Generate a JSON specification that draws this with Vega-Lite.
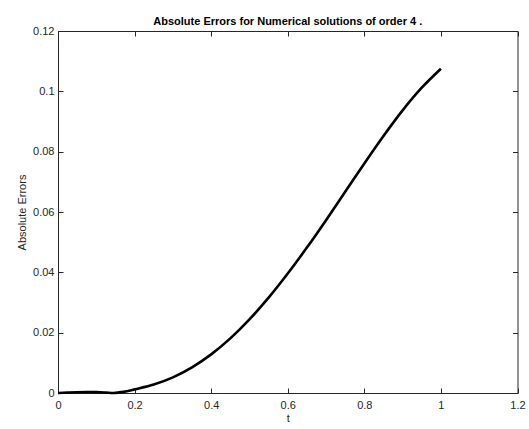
{
  "$schema": "https://vega.github.io/schema/vega-lite/v6.json",
  "width": 459.5,
  "height": 362,
  "autosize": {"type": "none"},
  "padding": {"left": 58, "top": 31, "right": 11, "bottom": 36},
  "background": "white",
  "config": {
    "font": "Liberation Sans",
    "view": {"stroke": "#262626", "strokeWidth": 1},
    "axis": {
      "domain": false,
      "ticks": false,
      "grid": true,
      "gridColor": "#262626",
      "gridWidth": 1,
      "gridOpacity": 1,
      "labelColor": "#262626",
      "labelFont": "Liberation Sans",
      "labelFontSize": 11,
      "titleFont": "Liberation Sans",
      "titleFontSize": 11,
      "titleFontWeight": "normal",
      "titleColor": "#262626"
    }
  },
  "title": {
    "text": "Absolute Errors for Numerical solutions of order 4 .",
    "fontSize": 11,
    "fontWeight": "bold",
    "font": "Liberation Sans",
    "color": "#000000",
    "anchor": "middle",
    "offset": -2
  },
  "data": {
    "values": [
      {"t": 0.0, "err": 0.0},
      {"t": 0.025, "err": 0.00015},
      {"t": 0.05, "err": 0.00027},
      {"t": 0.075, "err": 0.00032},
      {"t": 0.1, "err": 0.00028},
      {"t": 0.125, "err": 0.00014},
      {"t": 0.145, "err": 0.0},
      {"t": 0.16, "err": 0.0002},
      {"t": 0.18, "err": 0.0006},
      {"t": 0.2, "err": 0.0012},
      {"t": 0.25, "err": 0.0028},
      {"t": 0.3, "err": 0.0052},
      {"t": 0.35, "err": 0.0085},
      {"t": 0.4, "err": 0.0128},
      {"t": 0.45, "err": 0.0181},
      {"t": 0.5, "err": 0.0244},
      {"t": 0.55, "err": 0.0316},
      {"t": 0.6, "err": 0.0396},
      {"t": 0.65, "err": 0.0482},
      {"t": 0.7, "err": 0.0573},
      {"t": 0.75, "err": 0.0667},
      {"t": 0.8, "err": 0.0761},
      {"t": 0.85, "err": 0.0852},
      {"t": 0.9, "err": 0.0937},
      {"t": 0.95, "err": 0.1012},
      {"t": 1.0, "err": 0.1075}
    ]
  },
  "mark": {"type": "line", "color": "black", "strokeWidth": 2.6, "interpolate": "monotone"},
  "encoding": {
    "x": {
      "field": "t", "type": "quantitative",
      "scale": {"domain": [0, 1.2], "nice": false, "zero": false},
      "axis": {
        "orient": "bottom",
        "values": [0, 0.2, 0.4, 0.6, 0.8, 1, 1.2],
        "labelExpr": "'' + datum.value",
        "labelPadding": 6,
        "labelFlush": false,
        "gridDash": [5, 352, 5, 2000],
        "title": "t",
        "titlePadding": 2
      }
    },
    "y": {
      "field": "err", "type": "quantitative",
      "scale": {"domain": [0, 0.12], "nice": false},
      "axis": {
        "orient": "left",
        "values": [0, 0.02, 0.04, 0.06, 0.08, 0.1, 0.12],
        "labelExpr": "'' + datum.value",
        "labelPadding": 4,
        "labelFlush": false,
        "gridDash": [5, 449.5, 5, 2000],
        "title": "Absolute Errors",
        "titlePadding": 5
      }
    }
  }
}
